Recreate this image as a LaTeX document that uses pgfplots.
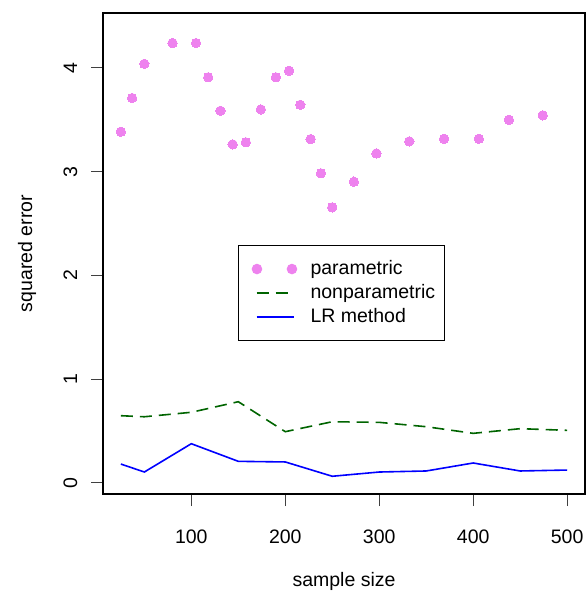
\documentclass[border=0pt]{standalone}
\usepackage{pgfplots}
\pgfplotsset{compat=1.18}
\usepackage{fontspec}
\setmainfont{Liberation Sans}
\definecolor{rviolet}{RGB}{238,130,238}
\definecolor{rgreen}{RGB}{0,100,0}
\definecolor{rblue}{RGB}{0,0,255}
\begin{document}
\begin{tikzpicture}
\useasboundingbox (0,0) rectangle (586bp,595bp);
\begin{axis}[
  at={(103bp,101bp)}, anchor=south west,
  scale only axis, width=482bp, height=481bp,
  xmin=6, xmax=519, ymin=-0.109, ymax=4.53,
  axis line style={line width=1.3bp},
  xtick={100,200,300,400,500}, ytick={0,1,2,3,4},
  xtick pos=bottom, ytick pos=left,
  tick align=outside, major tick length=12bp,
  tick style={line width=0.9bp, black!75},
  /pgf/number format/assume math mode=true,
  ticklabel style={font=\fontsize{19.5bp}{23bp}\selectfont},
  xticklabel style={yshift=-20bp},
  yticklabel style={xshift=-14bp, rotate=90, anchor=base},
  label style={font=\fontsize{19.5bp}{23bp}\selectfont},
  xlabel={sample size},
  ylabel={squared error},
  xlabel style={at={(axis description cs:0.5,-0.1933)}, anchor=base},
  ylabel style={at={(axis description cs:-0.147,0.5)}, anchor=base},
  legend style={at={(rel axis cs:0.2801,0.5177)}, anchor=north west,
    draw=black, line width=1.1bp, inner xsep=9bp, inner ysep=11.5bp,
    row sep=0pt, column sep=13bp,
    font=\fontsize{19.5bp}{23bp}\selectfont,
    nodes={inner sep=0pt, text height=17bp, text depth=7bp}},
  legend cell align=left,
]
\addplot[only marks, mark=*, mark size=4.7bp, mark options={draw=rviolet, fill=rviolet, line width=0pt},
  legend image code/.code={\path[draw=none,fill=none] (0,-2bp) rectangle (50bp,2bp); \fill[rviolet] (9.4bp,0) circle (4.7bp); \fill[rviolet] (44.4bp,0) circle (4.7bp);}]
coordinates {
(25,3.385) (37,3.71) (50,4.04) (80,4.24) (105,4.24) (118,3.91) (131,3.587)
(144,3.263) (158,3.283) (174,3.60) (190,3.91) (204,3.973) (216,3.645)
(227,3.314) (238,2.984) (250,2.656) (273,2.903) (297,3.176) (332,3.292)
(369,3.317) (406,3.317) (438,3.50) (474,3.543)
};
\addlegendentry{parametric}
\addplot[rgreen, line width=1.6bp, dash pattern=on 12bp off 7bp,
  legend image code/.code={\path[draw=none,fill=none] (0,-2bp) rectangle (50bp,2bp); \draw[rgreen, line width=1.6bp, dash pattern=on 12bp off 7bp] (9bp,0) -- (46bp,0);}]
coordinates {
(25,0.646) (50,0.636) (100,0.679) (150,0.781) (200,0.492) (250,0.588)
(300,0.582) (350,0.540) (400,0.476) (450,0.521) (500,0.505)
};
\addlegendentry{nonparametric}
\addplot[rblue, line width=1.6bp,
  legend image code/.code={\path[draw=none,fill=none] (0,-2bp) rectangle (50bp,2bp); \draw[rblue, line width=1.6bp] (9bp,0) -- (46bp,0);}]
coordinates {
(25,0.180) (50,0.103) (100,0.376) (150,0.206) (200,0.200) (250,0.062)
(300,0.103) (350,0.113) (400,0.190) (450,0.113) (500,0.122)
};
\addlegendentry{LR method}
\end{axis}
\end{tikzpicture}
\end{document}
